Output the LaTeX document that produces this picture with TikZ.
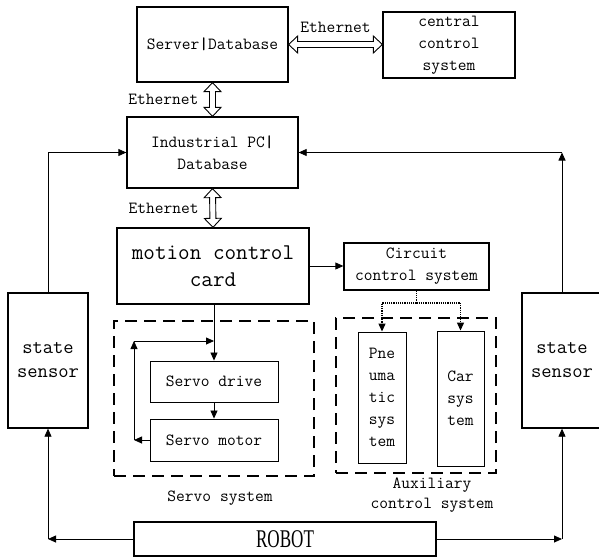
\documentclass[tikz,border=0pt]{standalone}
\usepackage{fontspec}
\newfontfamily\robotfont{Liberation Serif}
\usetikzlibrary{arrows.meta}
\usetikzlibrary{calc}

\begin{document}
\begin{tikzpicture}[x=1pt,y=-1pt]
\tikzstyle{box} = [draw, line width=1.3pt, align=center, inner sep=2pt, font=\ttfamily\fontsize{17}{22}\selectfont]
\tikzstyle{subbox} = [box, line width=0.9pt]
\tikzstyle{grp} = [draw, line width=1.6pt, dash pattern=on 12pt off 7pt]
\tikzstyle{eth} = [draw, fill=white, line width=0.9pt, line join=miter, to path={
  -- ($($(\tikztostart)!9pt!(\tikztotarget)$)!8.5pt!90:(\tikztotarget)$)
  -- ($($(\tikztostart)!9pt!(\tikztotarget)$)!3pt!90:(\tikztotarget)$)
  -- ($($(\tikztotarget)!9pt!(\tikztostart)$)!3pt!-90:(\tikztostart)$)
  -- ($($(\tikztotarget)!9pt!(\tikztostart)$)!8.5pt!-90:(\tikztostart)$)
  -- (\tikztotarget)
  -- ($($(\tikztotarget)!9pt!(\tikztostart)$)!8.5pt!90:(\tikztostart)$)
  -- ($($(\tikztotarget)!9pt!(\tikztostart)$)!3pt!90:(\tikztostart)$)
  -- ($($(\tikztostart)!9pt!(\tikztotarget)$)!3pt!-90:(\tikztotarget)$)
  -- ($($(\tikztostart)!9pt!(\tikztotarget)$)!8.5pt!-90:(\tikztotarget)$)
  -- cycle}]
\tikzstyle{arr} = [-{Triangle[length=8pt,width=7pt]}, line width=0.8pt]
\tikzstyle{feed} = [line width=1.2pt, densely dotted, -{Triangle[length=8pt,width=7pt]}]
\tikzstyle{lbl} = [font=\ttfamily\fontsize{17}{20}\selectfont, align=center]
\useasboundingbox (0,0) rectangle (599,557);
% upper level
\node[box, minimum width=151pt, minimum height=75pt] (srv) at (212.5,44.5) {Server\textbf{|}Database};
\node[box, minimum width=132pt, minimum height=66pt] (ccs) at (449,45) {central\\control\\system};
\node[box, minimum width=171pt, minimum height=71pt] (ipc) at (212.5,152.5) {Industrial PC\textbf{|}\\Database};
\node[box, minimum width=192pt, minimum height=76pt, font=\ttfamily\fontsize{22.5}{27}\selectfont] (mcc) at (213,266) {motion control\\card};
\node[box, minimum width=145pt, minimum height=47pt] (circ) at (416.5,266.5) {Circuit\\control system};
% sensors and robot
\node[box, minimum width=80pt, minimum height=135pt, font=\ttfamily\fontsize{20}{24}\selectfont] (lsen) at (48,360.5) {state\\sensor};
\node[box, minimum width=80pt, minimum height=135pt, font=\ttfamily\fontsize{20}{24}\selectfont] (rsen) at (562,360.5) {state\\sensor};
\node[box, minimum width=302pt, minimum height=34pt, font=\robotfont\fontsize{25.5}{30}\selectfont] (robot) at (285,539) {\scalebox{0.67}[1]{ROBOT}};
% servo system
\node[grp, minimum width=200pt, minimum height=155pt] (sgrp) at (214,398.5) {};
\node[subbox, minimum width=128pt, minimum height=41pt] (sdrv) at (214,381.5) {Servo drive};
\node[subbox, minimum width=128pt, minimum height=42pt] (smot) at (214,440) {Servo motor};
\node[lbl] (slbl) at (220,498) {Servo system};
% auxiliary control system
\node[grp, minimum width=160pt, minimum height=155pt] (agrp) at (416,395.5) {};
\node[subbox, minimum width=48pt, minimum height=131pt] (pneu) at (382,397.5) {Pne\\uma\\tic\\sys\\tem};
\node[subbox, minimum width=47pt, minimum height=135pt] (car) at (460.5,398.5) {Car\\sys\\tem};
\node[lbl] (albl) at (432,495) {Auxiliary\\control system};

% ethernet links
\coordinate (ce) at (ccs.west |- srv.east);
\path[eth] (srv.east) to (ce);
\path[eth] (srv.south) to (ipc.north);
\path[eth] (ipc.south) to (mcc.north);
\node[lbl, above=8pt] (e1) at ($(srv.east)!0.5!(ce)$) {Ethernet};
\node[lbl, left=14pt, inner sep=0pt] (e2) at ($(srv.south)!0.5!(ipc.north)$) {Ethernet};
\node[lbl, left=14pt, inner sep=0pt] (e3) at ($(ipc.south)!0.5!(mcc.north)$) {Ethernet};

\draw[arr] (mcc.east) -- (circ.west |- mcc.east);
\draw[arr] (lsen.north) |- (ipc.west);
\coordinate (rc) at (rsen.north |- ipc.east);
\draw[arr] (rsen.north) -- (rc);
\draw[arr] (rc) -- (ipc.east);
\coordinate (lc) at (lsen.south |- robot.west);
\coordinate (rb) at (rsen.south |- robot.east);
\draw[arr] (robot.west) -- (lc);
\draw[arr] (lc) -- (lsen.south);
\draw[arr] (robot.east) -- (rb);
\draw[arr] (rb) -- (rsen.south);
\draw[arr] (sdrv.north |- mcc.south) -- (sdrv.north);
\draw[arr] (sdrv.south) -- (smot.north);
\coordinate (fb1) at (134,440);
\coordinate (fb2) at (134,341);
\draw[arr] (smot.west) -- (fb1);
\draw[arr] (fb1) -- (fb2);
\draw[arr] (fb2) -- (sdrv.north |- fb2);
\coordinate (aj) at (circ.south |- 0,303);
\draw[line width=1.2pt, densely dotted] (circ.south) -- (aj);
\draw[feed] (aj) -| (pneu.north);
\draw[feed] (aj) -| (car.north);
\end{tikzpicture}
\end{document}
